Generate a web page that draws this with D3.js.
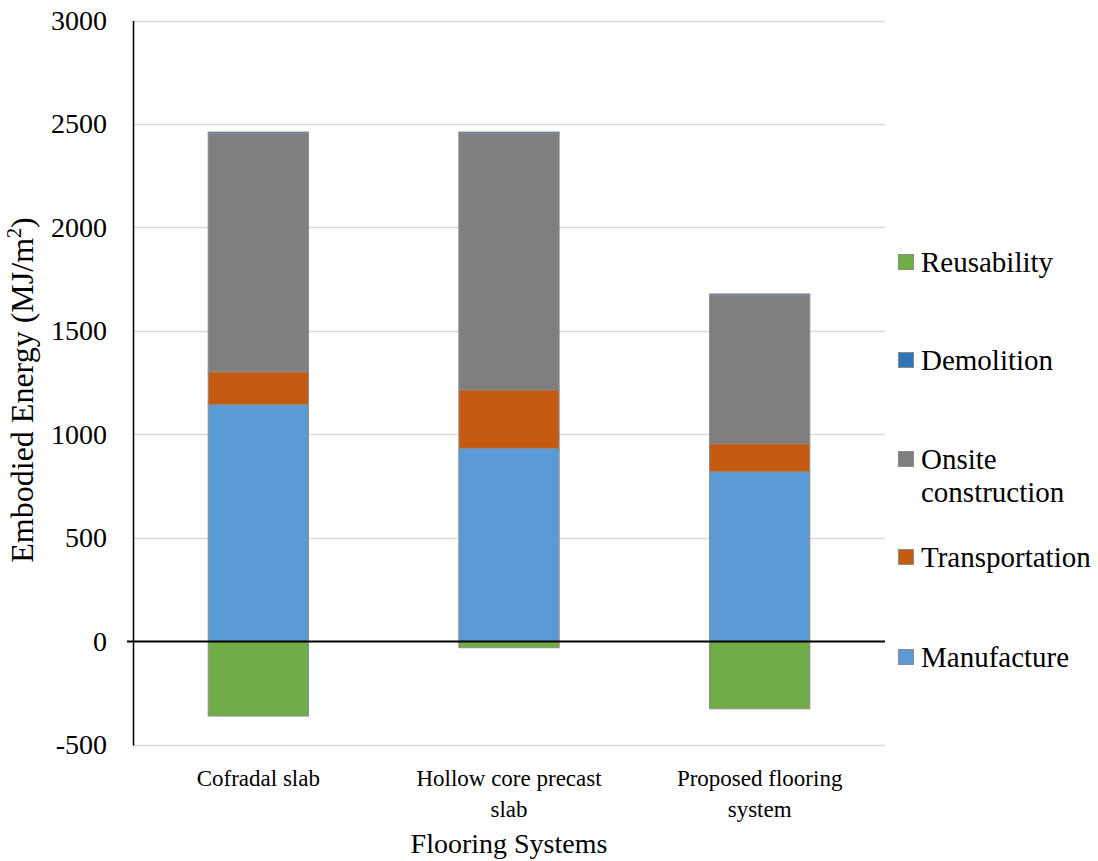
<!DOCTYPE html>
<html>
<head>
<meta charset="utf-8">
<script src="https://cdn.jsdelivr.net/npm/d3@7"></script>
<style>
  html, body { margin: 0; padding: 0; background: #fff; }
</style>
</head>
<body>
<svg id="chart" width="1098" height="861"></svg>
<script>
// Flooring systems compared
const categories = ["Cofradal slab", "Hollow core precast slab", "Proposed flooring system"];
const categoryLines = [["Cofradal slab"], ["Hollow core precast", "slab"], ["Proposed flooring", "system"]];

// Embodied energy per life-cycle stage (MJ/m²)
const manufacture    = [1144, 933, 820];
const transportation = [159, 283, 136];
const onsite         = [1151, 1238, 717];
const demolition     = [7, 7, 6];
const reusability    = [-360, -30, -325];

const yTicks = [-500, 0, 500, 1000, 1500, 2000, 2500, 3000];

const seriesKeys = ["Manufacture", "Transportation", "Onsite construction", "Demolition", "Reusability"];
const seriesColors = {
  "Manufacture": "#5B9BD5",
  "Transportation": "#C55A11",
  "Onsite construction": "#7F7F7F",
  "Demolition": "#2E75B6",
  "Reusability": "#70AD47"
};
const legendOrder = ["Reusability", "Demolition", "Onsite construction", "Transportation", "Manufacture"];

const rows = categories.map((c, i) => ({
  category: c,
  "Manufacture": manufacture[i],
  "Transportation": transportation[i],
  "Onsite construction": onsite[i],
  "Demolition": demolition[i],
  "Reusability": reusability[i]
}));

const FONT = '"Liberation Serif"';
const svg = d3.select("#chart");
const plotLeft = 133, plotRight = 885, plotTop = 20.5, plotBottom = 745;

const x = d3.scaleBand().domain(categories).range([plotLeft, plotRight])
  .paddingInner(0.6).paddingOuter(0.3);
const y = d3.scaleLinear().domain([-500, 3000]).range([plotBottom, plotTop]);

// Horizontal gridlines
svg.append("g").selectAll("line").data(yTicks.filter(t => t !== 0)).join("line")
  .attr("x1", plotLeft).attr("x2", plotRight)
  .attr("y1", d => Math.round(y(d)) + 0.5).attr("y2", d => Math.round(y(d)) + 0.5)
  .attr("stroke", "#D9D9D9").attr("stroke-width", 1.5);

// Stacked bars (negative values stack below zero)
const stacked = d3.stack().keys(seriesKeys).offset(d3.stackOffsetDiverging)(rows);
svg.append("g").selectAll("g").data(stacked).join("g")
  .attr("fill", d => seriesColors[d.key])
  .selectAll("rect").data(d => d).join("rect")
    .attr("x", d => x(d.data.category))
    .attr("width", x.bandwidth())
    .attr("y", d => y(Math.max(d[0], d[1])))
    .attr("height", d => Math.abs(y(d[0]) - y(d[1])))
    .attr("stroke", "#8C8C8C").attr("stroke-width", 1);

// Value axis
const yAxis = svg.append("g").attr("transform", `translate(${plotLeft},0)`)
  .call(d3.axisLeft(y).tickValues(yTicks).tickSize(0).tickPadding(26).tickFormat(d => String(d)));
yAxis.select(".domain").attr("stroke", "#000").attr("stroke-width", 1.5);
yAxis.selectAll("text")
  .style("font-family", FONT).style("font-size", "28px").attr("fill", "#000");

// Zero baseline
svg.append("line")
  .attr("x1", plotLeft - 6).attr("x2", plotRight)
  .attr("y1", y(0)).attr("y2", y(0))
  .attr("stroke", "#000").attr("stroke-width", 1.8);

// Category labels
const catG = svg.append("g");
categories.forEach((c, i) => {
  const cx = x(c) + x.bandwidth() / 2;
  const t = catG.append("text").attr("text-anchor", "middle")
    .style("font-family", FONT).style("font-size", "23px").attr("fill", "#000");
  categoryLines[i].forEach((line, j) => {
    t.append("tspan").attr("x", cx).attr("y", 786 + j * 31).text(line);
  });
});

// Axis titles
svg.append("text").attr("x", (plotLeft + plotRight) / 2).attr("y", 853)
  .attr("text-anchor", "middle").attr("fill", "#000")
  .style("font-family", FONT).style("font-size", "28px")
  .text("Flooring Systems");

const yTitle = svg.append("text")
  .attr("transform", "translate(33,390) rotate(-90)")
  .attr("text-anchor", "middle").attr("fill", "#000")
  .style("font-family", FONT).style("font-size", "32px");
yTitle.append("tspan").text("Embodied Energy (MJ/m");
yTitle.append("tspan").style("font-size", "20px").attr("dy", -12).text("2");
yTitle.append("tspan").attr("dy", 12).text(")");

// Legend
const legendBase = { "Reusability": 272, "Demolition": 370, "Onsite construction": 469, "Transportation": 567, "Manufacture": 667 };
const legend = svg.append("g");
legendOrder.forEach(k => {
  const base = legendBase[k];
  legend.append("rect")
    .attr("x", 898.5).attr("y", base - 17.5).attr("width", 15).attr("height", 15)
    .attr("fill", seriesColors[k]).attr("stroke", "#8C8C8C").attr("stroke-width", 1);
  const t = legend.append("text").attr("fill", "#000")
    .style("font-family", FONT).style("font-size", "29px");
  const lines = k === "Onsite construction" ? ["Onsite", "construction"] : [k];
  lines.forEach((line, j) => {
    t.append("tspan").attr("x", 921).attr("y", base + j * 33).text(line);
  });
});
</script>
</body>
</html>
